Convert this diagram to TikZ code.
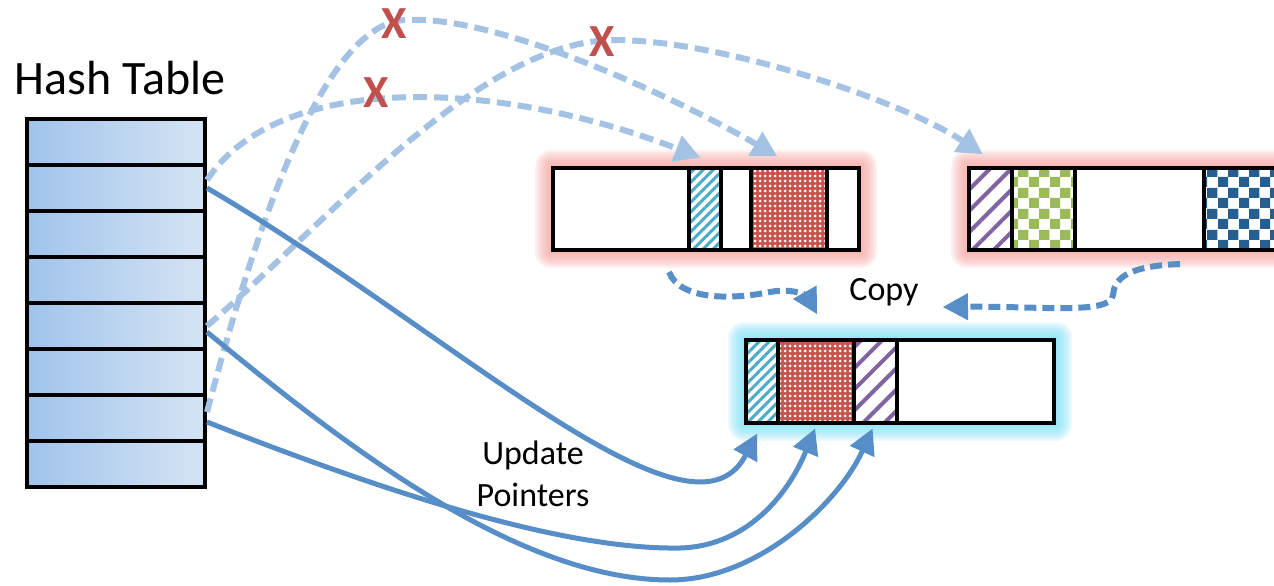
\documentclass[tikz,border=0pt]{standalone}
\usepackage{fontspec}
\setmainfont{Carlito}
\usepackage{tikz}
\usetikzlibrary{arrows.meta,positioning,calc,backgrounds,patterns,patterns.meta}
\usepackage{xcolor}
\definecolor{hashleft}{RGB}{160,195,235}
\definecolor{hashright}{RGB}{213,228,244}
\definecolor{pinkglow}{RGB}{245,160,155}
\definecolor{cyanglow}{RGB}{120,222,245}
\definecolor{cyanh}{RGB}{75,172,198}
\definecolor{redd}{RGB}{198,84,76}
\definecolor{purph}{RGB}{128,100,162}
\definecolor{greenc}{RGB}{155,187,89}
\definecolor{bluec}{RGB}{37,94,145}
\definecolor{ptrblue}{RGB}{88,142,200}
\definecolor{oldblue}{RGB}{164,195,228}
\definecolor{xred}{RGB}{192,80,77}
\pgfdeclarepatternformonly{checkboard}{\pgfpointorigin}{\pgfpoint{21pt}{21pt}}{\pgfpoint{21pt}{21pt}}{%
  \pgfpathrectangle{\pgfpointorigin}{\pgfpoint{10.5pt}{10.5pt}}%
  \pgfpathrectangle{\pgfpoint{10.5pt}{10.5pt}}{\pgfpoint{10.5pt}{10.5pt}}%
  \pgfusepath{fill}}

\begin{document}
\begin{tikzpicture}[x=1pt, y=-1pt,
    hrow/.style={rectangle, draw=black, line width=4pt, left color=hashleft,
                 right color=hashright, minimum width=178pt, minimum height=46pt,
                 inner sep=0pt},
    block/.style={rectangle, draw=black, line width=4pt, fill=white,
                  minimum height=82pt, inner sep=0pt},
    cell/.style={rectangle, draw=black, line width=3.5pt, minimum height=82pt,
                 inner sep=0pt},
    oldptr/.style={draw=oldblue, line width=6pt, dash pattern=on 14pt off 7pt,
                   -{Triangle[width=28pt,length=25pt,line width=1pt]}},
    newptr/.style={draw=ptrblue, line width=5pt,
                   -{Triangle[width=27pt,length=25pt,line width=1pt]}},
    copyptr/.style={draw=ptrblue, line width=6pt, dash pattern=on 12pt off 6pt,
                    -{Triangle[width=27pt,length=25pt,line width=1pt]}},
    xmark/.style={font=\fontsize{46}{46}\selectfont\bfseries, text=xred, inner sep=0pt},
    note/.style={font=\fontsize{34}{42}\selectfont, align=center}
]
\useasboundingbox (0,0) rectangle (1274,586);

\node[font=\fontsize{48}{52}\selectfont] (htitle) at (120,78) {Hash Table};
\foreach \i in {1,...,8}
  \node[hrow] (r\i) at (116,96+46*\i) {};

\node[block, minimum width=306pt] (ob1) at (706,209) {};
\node[cell, minimum width=32pt, pattern={Lines[angle=45,distance=7pt,line width=3pt]},
      pattern color=cyanh] (oc1) at (705,209) {};
\node[cell, minimum width=76pt, preaction={fill=redd},
      pattern={Dots[distance=5pt,radius=1.5pt]}, pattern color=white] (oc2) at (789,209) {};

\node[block, minimum width=340pt] (ob2) at (1139,209) {};
\node[cell, minimum width=43pt, pattern={Lines[angle=45,distance=15pt,line width=4pt]},
      pattern color=purph] (pc1) at (990.5,209) {};
\node[cell, minimum width=63pt, pattern=checkboard, pattern color=greenc] (pc2) at (1043.5,209) {};
\node[cell, minimum width=105pt, pattern=checkboard, pattern color=bluec] (pc3) at (1256.5,209) {};

\node[block, minimum width=308pt, minimum height=83pt] (nb) at (900,381.5) {};
\node[cell, minimum width=32pt, minimum height=83pt,
      pattern={Lines[angle=45,distance=7pt,line width=3pt]}, pattern color=cyanh] (nc1) at (762,381.5) {};
\node[cell, minimum width=76pt, minimum height=83pt, preaction={fill=redd},
      pattern={Dots[distance=5pt,radius=1.5pt]}, pattern color=white] (nc2) at (816,381.5) {};
\node[cell, minimum width=43pt, minimum height=83pt,
      pattern={Lines[angle=45,distance=15pt,line width=4pt]}, pattern color=purph] (nc3) at (875.5,381.5) {};

\begin{scope}[on background layer]
\foreach \k in {2,4,...,16} {
  \fill[pinkglow, opacity=0.15, rounded corners=\k pt]
    ([xshift=-\k pt,yshift=-\k pt]ob1.south west) rectangle ([xshift=\k pt,yshift=\k pt]ob1.north east);
  \fill[pinkglow, opacity=0.15, rounded corners=\k pt]
    ([xshift=-\k pt,yshift=-\k pt]ob2.south west) rectangle ([xshift=\k pt,yshift=\k pt]ob2.north east);
  \fill[cyanglow, opacity=0.15, rounded corners=\k pt]
    ([xshift=-\k pt,yshift=-\k pt]nb.south west) rectangle ([xshift=\k pt,yshift=\k pt]nb.north east);
}
\end{scope}

\draw[oldptr] ([yshift=8pt]r2.east) .. controls (280,70) and (500,80) .. ([xshift=-5pt,yshift=9pt]oc1.north);
\draw[oldptr] ([yshift=6pt]r7.east) .. controls (250,250) and (320,20) .. (407,20)
  .. controls (500,15) and (680,100) .. ([xshift=-12pt,yshift=10pt]oc2.north);
\draw[oldptr] (r5.east) .. controls (330,220) and (480,40) .. (615,40)
  .. controls (720,40) and (900,100) .. ([xshift=-8pt,yshift=12pt]pc1.north);

\node[xmark] (xa) at (394,24) {X};
\node[xmark] (xb) at (602,42) {X};
\node[xmark] (xc) at (376,93) {X};

\draw[newptr] (r2.east) .. controls (450,330) and (690,560) .. ([xshift=-5pt,yshift=-9pt]nc1.south);
\draw[newptr] ([yshift=-4pt]r7.east) .. controls (380,490) and (560,550) .. (680,548)
  .. controls (750,546) and (790,490) .. ([xshift=-1pt,yshift=-4pt]nc2.south);
\draw[newptr] ([yshift=-6pt]r5.east) .. controls (350,450) and (520,580) .. (670,580)
  .. controls (760,580) and (840,500) .. ([xshift=-3pt,yshift=-4pt]nc3.south);

\node[note] (copy) at (884,292) {Copy};
\node[note] (upd) at (533,474) {Update\\Pointers};

\draw[copyptr] ([xshift=-37pt,yshift=-20pt]ob1.south) .. controls (680,300) and (730,300) .. (770,292)
  .. controls (795,287) and (808,298) .. ([xshift=-67pt,yshift=-22pt]copy.center);
\draw[copyptr] ([xshift=41pt,yshift=-12pt]ob2.south) .. controls (1125,266) and (1114,280) .. (1113,295)
  .. controls (1111,315) and (1040,306) .. ([xshift=59pt,yshift=-15pt]copy.center);
\end{tikzpicture}
\end{document}
